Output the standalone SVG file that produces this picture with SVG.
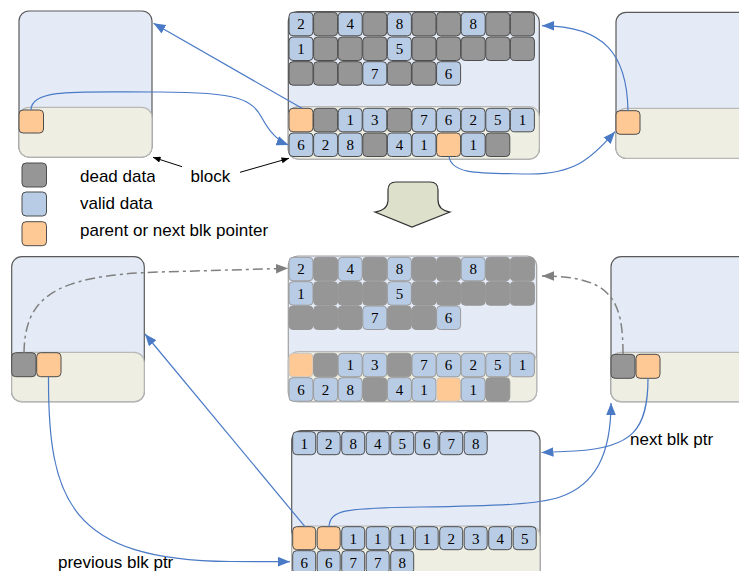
<svg xmlns="http://www.w3.org/2000/svg" width="739" height="571" viewBox="0 0 739 571">
<style>
.up{fill:#e5ebf6;stroke:#5a5a5a;stroke-width:1.2}
.up2{fill:#e5ebf6;stroke:#a0a0a0;stroke-width:1.2}
.lo{fill:#eeeee3;stroke:#b8b8b8;stroke-width:1.2}
.v{fill:#b9cce5;stroke:#4d4d4d;stroke-width:1}
.d{fill:#969696;stroke:#4d4d4d;stroke-width:1}
.o{fill:#fec995;stroke:#4d4d4d;stroke-width:1}
.v2{fill:#b9cce5;stroke:#9a9a9a;stroke-width:1}
.d2{fill:#969696;stroke:#969696;stroke-width:1}
.o2{fill:#fec995;stroke:#c8c8c8;stroke-width:1}
.n{font-family:"Liberation Serif","Times New Roman",serif;font-size:15px;text-anchor:middle;fill:#000}
.lbl{font-family:"Liberation Sans",Arial,sans-serif;font-size:17px;fill:#000}
.conn{fill:none;stroke:#4a7ac6;stroke-width:1.2}
.dash{fill:none;stroke:#808080;stroke-width:1.5;stroke-dasharray:10,4,3,4}
.blk{fill:none;stroke:#000;stroke-width:1}
</style>
<defs>
<marker id="ab" viewBox="0 0 10 8" refX="10" refY="4" markerWidth="12" markerHeight="10" markerUnits="userSpaceOnUse" orient="auto"><path d="M0,0 L10,4 L0,8 Z" fill="#4a7ac6"/></marker>
<marker id="ag" viewBox="0 0 10 8" refX="10" refY="4" markerWidth="12" markerHeight="10" markerUnits="userSpaceOnUse" orient="auto"><path d="M0,0 L10,4 L0,8 Z" fill="#808080"/></marker>
<marker id="ak" viewBox="0 0 10 8" refX="10" refY="4" markerWidth="8" markerHeight="6" markerUnits="userSpaceOnUse" orient="auto"><path d="M0,0 L10,4 L0,8 Z" fill="#000"/></marker>
<clipPath id="lc"><rect x="0" y="160" width="155" height="56"/></clipPath>
</defs>

<g id="block-top-left">
<rect class="up" x="19" y="11" width="133" height="146" rx="10"/>
<rect class="lo" x="19" y="107.3" width="133" height="49.7" rx="10"/>
<rect class="o" x="19" y="110" width="24.5" height="23" rx="4"/>
</g>

<g id="block-top-right">
<rect class="up" x="616" y="12.3" width="150" height="146" rx="10"/>
<rect class="lo" x="616" y="108.3" width="150" height="50" rx="10"/>
<rect class="o" x="616" y="110.7" width="24" height="23.6" rx="4"/>
</g>

<g id="block-top-mid">
<rect class="up" x="288.3" y="11.7" width="251" height="147.3" rx="10"/>
<rect class="lo" x="288.3" y="106.7" width="251" height="52.3" rx="10"/>
<rect class="v" x="289" y="12.3" width="24" height="23.5" rx="4"/><text class="n" x="301" y="29.3">2</text>
<rect class="d" x="313.6" y="12.3" width="24" height="23.5" rx="4"/>
<rect class="v" x="338.2" y="12.3" width="24" height="23.5" rx="4"/><text class="n" x="350.2" y="29.3">4</text>
<rect class="d" x="362.8" y="12.3" width="24" height="23.5" rx="4"/>
<rect class="v" x="387.4" y="12.3" width="24" height="23.5" rx="4"/><text class="n" x="399.4" y="29.3">8</text>
<rect class="d" x="412" y="12.3" width="24" height="23.5" rx="4"/>
<rect class="d" x="436.6" y="12.3" width="24" height="23.5" rx="4"/>
<rect class="v" x="461.2" y="12.3" width="24" height="23.5" rx="4"/><text class="n" x="473.2" y="29.3">8</text>
<rect class="d" x="485.8" y="12.3" width="24" height="23.5" rx="4"/>
<rect class="d" x="510.4" y="12.3" width="24" height="23.5" rx="4"/>
<rect class="v" x="289" y="37" width="24" height="23.5" rx="4"/><text class="n" x="301" y="54">1</text>
<rect class="d" x="313.6" y="37" width="24" height="23.5" rx="4"/>
<rect class="d" x="338.2" y="37" width="24" height="23.5" rx="4"/>
<rect class="d" x="362.8" y="37" width="24" height="23.5" rx="4"/>
<rect class="v" x="387.4" y="37" width="24" height="23.5" rx="4"/><text class="n" x="399.4" y="54">5</text>
<rect class="d" x="412" y="37" width="24" height="23.5" rx="4"/>
<rect class="d" x="436.6" y="37" width="24" height="23.5" rx="4"/>
<rect class="d" x="461.2" y="37" width="24" height="23.5" rx="4"/>
<rect class="d" x="485.8" y="37" width="24" height="23.5" rx="4"/>
<rect class="d" x="510.4" y="37" width="24" height="23.5" rx="4"/>
<rect class="d" x="289" y="61.7" width="24" height="23.5" rx="4"/>
<rect class="d" x="313.6" y="61.7" width="24" height="23.5" rx="4"/>
<rect class="d" x="338.2" y="61.7" width="24" height="23.5" rx="4"/>
<rect class="v" x="362.8" y="61.7" width="24" height="23.5" rx="4"/><text class="n" x="374.8" y="78.7">7</text>
<rect class="d" x="387.4" y="61.7" width="24" height="23.5" rx="4"/>
<rect class="d" x="412" y="61.7" width="24" height="23.5" rx="4"/>
<rect class="v" x="436.6" y="61.7" width="24" height="23.5" rx="4"/><text class="n" x="448.6" y="78.7">6</text>
<rect class="o" x="289" y="108.3" width="24" height="23.5" rx="4"/>
<rect class="d" x="313.6" y="108.3" width="24" height="23.5" rx="4"/>
<rect class="v" x="338.2" y="108.3" width="24" height="23.5" rx="4"/><text class="n" x="350.2" y="125.3">1</text>
<rect class="v" x="362.8" y="108.3" width="24" height="23.5" rx="4"/><text class="n" x="374.8" y="125.3">3</text>
<rect class="d" x="387.4" y="108.3" width="24" height="23.5" rx="4"/>
<rect class="v" x="412" y="108.3" width="24" height="23.5" rx="4"/><text class="n" x="424" y="125.3">7</text>
<rect class="v" x="436.6" y="108.3" width="24" height="23.5" rx="4"/><text class="n" x="448.6" y="125.3">6</text>
<rect class="v" x="461.2" y="108.3" width="24" height="23.5" rx="4"/><text class="n" x="473.2" y="125.3">2</text>
<rect class="v" x="485.8" y="108.3" width="24" height="23.5" rx="4"/><text class="n" x="497.8" y="125.3">5</text>
<rect class="v" x="510.4" y="108.3" width="24" height="23.5" rx="4"/><text class="n" x="522.4" y="125.3">1</text>
<rect class="v" x="289" y="133" width="24" height="23.5" rx="4"/><text class="n" x="301" y="150">6</text>
<rect class="v" x="313.6" y="133" width="24" height="23.5" rx="4"/><text class="n" x="325.6" y="150">2</text>
<rect class="v" x="338.2" y="133" width="24" height="23.5" rx="4"/><text class="n" x="350.2" y="150">8</text>
<rect class="d" x="362.8" y="133" width="24" height="23.5" rx="4"/>
<rect class="v" x="387.4" y="133" width="24" height="23.5" rx="4"/><text class="n" x="399.4" y="150">4</text>
<rect class="v" x="412" y="133" width="24" height="23.5" rx="4"/><text class="n" x="424" y="150">1</text>
<rect class="o" x="436.6" y="133" width="24" height="23.5" rx="4"/>
<rect class="v" x="461.2" y="133" width="24" height="23.5" rx="4"/><text class="n" x="473.2" y="150">1</text>
<rect class="d" x="485.8" y="133" width="24" height="23.5" rx="4"/>
</g>

<g id="legend">
<rect class="d" x="22" y="163" width="24.5" height="24" rx="4"/>
<rect class="v" x="22" y="192" width="24.5" height="24" rx="4"/>
<rect class="o" x="22" y="221.7" width="24.5" height="24" rx="4"/>
<g clip-path="url(#lc)">
<text class="lbl" x="80" y="181.7">dead data</text>
<text class="lbl" x="80" y="209">valid data</text>
</g>
<text class="lbl" x="80" y="235.7">parent or next blk pointer</text>
</g>

<g id="label-block">
<text class="lbl" x="190.5" y="181.7">block</text>
<line class="blk" x1="182" y1="166.7" x2="153" y2="157.3" marker-end="url(#ak)"/>
<line class="blk" x1="240" y1="172.3" x2="289" y2="158.3" marker-end="url(#ak)"/>
</g>

<g id="transform-arrow">
<path d="M396,182 L430,182 Q438,182 438,190 L438,200 Q438,210 450,212 L412,227 L375,212 Q388,210 388,200 L388,190 Q388,182 396,182 Z" fill="#dde0cb" stroke="#333" stroke-width="1.2"/>
</g>

<g id="block-mid-left">
<rect class="up" x="11.7" y="256.7" width="132.6" height="145" rx="10"/>
<rect class="lo" x="11.7" y="352.3" width="132.6" height="49.4" rx="10"/>
<rect class="d" x="11.7" y="352.7" width="24.3" height="24" rx="4"/>
<rect class="o" x="36.7" y="352.7" width="24.3" height="24" rx="4"/>
</g>

<g id="block-mid-right">
<rect class="up" x="611" y="256.7" width="150" height="145" rx="10"/>
<rect class="lo" x="611" y="352.3" width="150" height="49.4" rx="10"/>
<rect class="d" x="611" y="354.3" width="24" height="24" rx="4"/>
<rect class="o" x="636" y="354.3" width="24" height="24" rx="4"/>
</g>

<g id="block-mid">
<rect class="up2" x="288.3" y="256" width="248.4" height="145.7" rx="10"/>
<rect class="lo" x="288.3" y="351.7" width="248.4" height="50" rx="10"/>
<rect class="v2" x="289" y="257.3" width="24" height="23.5" rx="4"/><text class="n" x="301" y="274.3">2</text>
<rect class="d2" x="313.6" y="257.3" width="24" height="23.5" rx="4"/>
<rect class="v2" x="338.2" y="257.3" width="24" height="23.5" rx="4"/><text class="n" x="350.2" y="274.3">4</text>
<rect class="d2" x="362.8" y="257.3" width="24" height="23.5" rx="4"/>
<rect class="v2" x="387.4" y="257.3" width="24" height="23.5" rx="4"/><text class="n" x="399.4" y="274.3">8</text>
<rect class="d2" x="412" y="257.3" width="24" height="23.5" rx="4"/>
<rect class="d2" x="436.6" y="257.3" width="24" height="23.5" rx="4"/>
<rect class="v2" x="461.2" y="257.3" width="24" height="23.5" rx="4"/><text class="n" x="473.2" y="274.3">8</text>
<rect class="d2" x="485.8" y="257.3" width="24" height="23.5" rx="4"/>
<rect class="d2" x="510.4" y="257.3" width="24" height="23.5" rx="4"/>
<rect class="v2" x="289" y="281.7" width="24" height="23.5" rx="4"/><text class="n" x="301" y="298.7">1</text>
<rect class="d2" x="313.6" y="281.7" width="24" height="23.5" rx="4"/>
<rect class="d2" x="338.2" y="281.7" width="24" height="23.5" rx="4"/>
<rect class="d2" x="362.8" y="281.7" width="24" height="23.5" rx="4"/>
<rect class="v2" x="387.4" y="281.7" width="24" height="23.5" rx="4"/><text class="n" x="399.4" y="298.7">5</text>
<rect class="d2" x="412" y="281.7" width="24" height="23.5" rx="4"/>
<rect class="d2" x="436.6" y="281.7" width="24" height="23.5" rx="4"/>
<rect class="d2" x="461.2" y="281.7" width="24" height="23.5" rx="4"/>
<rect class="d2" x="485.8" y="281.7" width="24" height="23.5" rx="4"/>
<rect class="d2" x="510.4" y="281.7" width="24" height="23.5" rx="4"/>
<rect class="d2" x="289" y="306" width="24" height="23.5" rx="4"/>
<rect class="d2" x="313.6" y="306" width="24" height="23.5" rx="4"/>
<rect class="d2" x="338.2" y="306" width="24" height="23.5" rx="4"/>
<rect class="v2" x="362.8" y="306" width="24" height="23.5" rx="4"/><text class="n" x="374.8" y="323">7</text>
<rect class="d2" x="387.4" y="306" width="24" height="23.5" rx="4"/>
<rect class="d2" x="412" y="306" width="24" height="23.5" rx="4"/>
<rect class="v2" x="436.6" y="306" width="24" height="23.5" rx="4"/><text class="n" x="448.6" y="323">6</text>
<rect class="o2" x="289" y="353.3" width="24" height="23.5" rx="4"/>
<rect class="d2" x="313.6" y="353.3" width="24" height="23.5" rx="4"/>
<rect class="v2" x="338.2" y="353.3" width="24" height="23.5" rx="4"/><text class="n" x="350.2" y="370.3">1</text>
<rect class="v2" x="362.8" y="353.3" width="24" height="23.5" rx="4"/><text class="n" x="374.8" y="370.3">3</text>
<rect class="d2" x="387.4" y="353.3" width="24" height="23.5" rx="4"/>
<rect class="v2" x="412" y="353.3" width="24" height="23.5" rx="4"/><text class="n" x="424" y="370.3">7</text>
<rect class="v2" x="436.6" y="353.3" width="24" height="23.5" rx="4"/><text class="n" x="448.6" y="370.3">6</text>
<rect class="v2" x="461.2" y="353.3" width="24" height="23.5" rx="4"/><text class="n" x="473.2" y="370.3">2</text>
<rect class="v2" x="485.8" y="353.3" width="24" height="23.5" rx="4"/><text class="n" x="497.8" y="370.3">5</text>
<rect class="v2" x="510.4" y="353.3" width="24" height="23.5" rx="4"/><text class="n" x="522.4" y="370.3">1</text>
<rect class="v2" x="289" y="377.7" width="24" height="23.5" rx="4"/><text class="n" x="301" y="394.7">6</text>
<rect class="v2" x="313.6" y="377.7" width="24" height="23.5" rx="4"/><text class="n" x="325.6" y="394.7">2</text>
<rect class="v2" x="338.2" y="377.7" width="24" height="23.5" rx="4"/><text class="n" x="350.2" y="394.7">8</text>
<rect class="d2" x="362.8" y="377.7" width="24" height="23.5" rx="4"/>
<rect class="v2" x="387.4" y="377.7" width="24" height="23.5" rx="4"/><text class="n" x="399.4" y="394.7">4</text>
<rect class="v2" x="412" y="377.7" width="24" height="23.5" rx="4"/><text class="n" x="424" y="394.7">1</text>
<rect class="o2" x="436.6" y="377.7" width="24" height="23.5" rx="4"/>
<rect class="v2" x="461.2" y="377.7" width="24" height="23.5" rx="4"/><text class="n" x="473.2" y="394.7">1</text>
<rect class="d2" x="485.8" y="377.7" width="24" height="23.5" rx="4"/>
</g>

<g id="block-bottom">
<rect class="up" x="291.7" y="430.7" width="248.3" height="160" rx="10"/>
<rect class="lo" x="291.7" y="526" width="248.3" height="64" rx="10"/>
<rect class="v" x="292.7" y="431.7" width="23" height="23" rx="4"/><text class="n" x="304.2" y="448.5">1</text>
<rect class="v" x="317.2" y="431.7" width="23" height="23" rx="4"/><text class="n" x="328.7" y="448.5">2</text>
<rect class="v" x="341.7" y="431.7" width="23" height="23" rx="4"/><text class="n" x="353.2" y="448.5">8</text>
<rect class="v" x="366.2" y="431.7" width="23" height="23" rx="4"/><text class="n" x="377.7" y="448.5">4</text>
<rect class="v" x="390.7" y="431.7" width="23" height="23" rx="4"/><text class="n" x="402.2" y="448.5">5</text>
<rect class="v" x="415.2" y="431.7" width="23" height="23" rx="4"/><text class="n" x="426.7" y="448.5">6</text>
<rect class="v" x="439.7" y="431.7" width="23" height="23" rx="4"/><text class="n" x="451.2" y="448.5">7</text>
<rect class="v" x="464.2" y="431.7" width="23" height="23" rx="4"/><text class="n" x="475.7" y="448.5">8</text>
<rect class="o" x="292.7" y="526.7" width="23" height="23" rx="4"/>
<rect class="o" x="317.2" y="526.7" width="23" height="23" rx="4"/>
<rect class="v" x="341.7" y="526.7" width="23" height="23" rx="4"/><text class="n" x="353.2" y="543.5">1</text>
<rect class="v" x="366.2" y="526.7" width="23" height="23" rx="4"/><text class="n" x="377.7" y="543.5">1</text>
<rect class="v" x="390.7" y="526.7" width="23" height="23" rx="4"/><text class="n" x="402.2" y="543.5">1</text>
<rect class="v" x="415.2" y="526.7" width="23" height="23" rx="4"/><text class="n" x="426.7" y="543.5">1</text>
<rect class="v" x="439.7" y="526.7" width="23" height="23" rx="4"/><text class="n" x="451.2" y="543.5">2</text>
<rect class="v" x="464.2" y="526.7" width="23" height="23" rx="4"/><text class="n" x="475.7" y="543.5">3</text>
<rect class="v" x="488.7" y="526.7" width="23" height="23" rx="4"/><text class="n" x="500.2" y="543.5">4</text>
<rect class="v" x="513.2" y="526.7" width="23" height="23" rx="4"/><text class="n" x="524.7" y="543.5">5</text>
<rect class="v" x="292.7" y="550.7" width="23" height="23" rx="4"/><text class="n" x="304.2" y="567.5">6</text>
<rect class="v" x="317.2" y="550.7" width="23" height="23" rx="4"/><text class="n" x="328.7" y="567.5">6</text>
<rect class="v" x="341.7" y="550.7" width="23" height="23" rx="4"/><text class="n" x="353.2" y="567.5">7</text>
<rect class="v" x="366.2" y="550.7" width="23" height="23" rx="4"/><text class="n" x="377.7" y="567.5">7</text>
<rect class="v" x="390.7" y="550.7" width="23" height="23" rx="4"/><text class="n" x="402.2" y="567.5">8</text>
</g>

<g id="connectors">
<line class="conn" x1="302" y1="108.3" x2="153.5" y2="23.3" marker-end="url(#ab)"/>
<path class="conn" d="M31,110 C31,88 80,92 160,92 C240,92 252,100 262,118 C270,133 278,141 288.5,145" marker-end="url(#ab)"/>
<path class="conn" d="M628,110.7 C627,55 605,26 542,25.7" marker-end="url(#ab)"/>
<path class="conn" d="M449,156.5 C452,175 480,173 530,174 C575,174 592,158 615,131.7" marker-end="url(#ab)"/>
<path class="dash" d="M24,352.7 C25,300 50,275 160,272 L288,268.3" marker-end="url(#ag)"/>
<path class="dash" d="M623,354.3 C623,300 612,276 542,276" marker-end="url(#ag)"/>
<line class="conn" x1="305" y1="526.7" x2="145" y2="334" marker-end="url(#ab)"/>
<path class="conn" d="M48.5,376.7 C48,500 70,560 230,561.5 L290,561.7" marker-end="url(#ab)"/>
<path class="conn" d="M648,378.3 C648,430 632,448 575,451 L541.5,452.5" marker-end="url(#ab)"/>
<path class="conn" d="M329,526.7 C330,510 345,508 420,507 C500,506 540,504 560,497 C595,485 611,455 611,403" marker-end="url(#ab)"/>
</g>

<g id="connector-labels">
<text class="lbl" x="58" y="568">previous blk ptr</text>
<text class="lbl" x="630" y="445">next blk ptr</text>
</g>
</svg>
